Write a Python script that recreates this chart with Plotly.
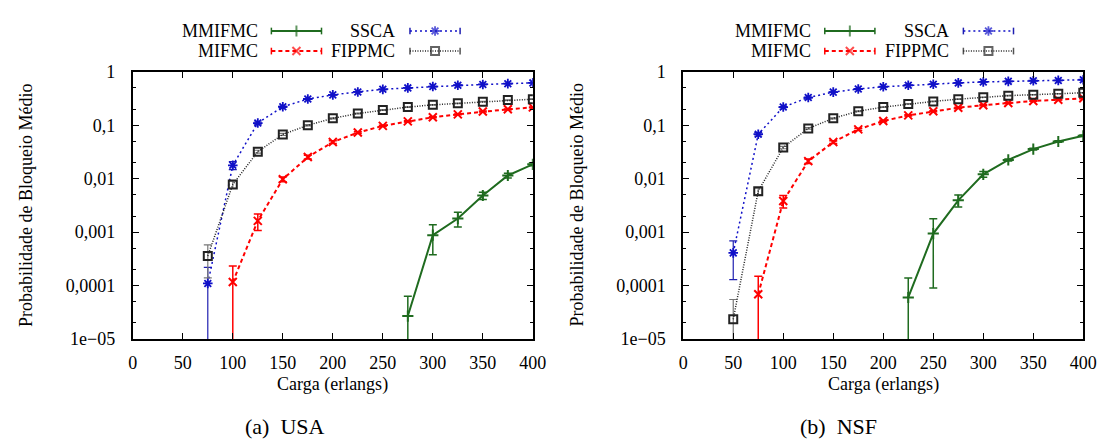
import plotly.graph_objects as go

W, H = 1114, 447
FONT = "Liberation Serif"

# ---------------- data: blocking probability vs. load (erlangs) ----------------
# USA topology
usa_mmifmc_x = [275, 300, 325, 350, 375, 400]
usa_mmifmc_y = [2.7e-5, 8.8e-4, 1.8e-3, 4.85e-3, 0.0115, 0.0186]
usa_mmifmc_e = [3.6e-5, 5e-4, 5.5e-4, 7.5e-4, 1.2e-3, 1.2e-3]

usa_mifmc_x = [100, 125, 150, 175, 200, 225, 250, 275, 300, 325, 350, 375, 400]
usa_mifmc_y = [1.17e-4, 1.63e-3, 0.0098, 0.0254, 0.0485, 0.073, 0.0975, 0.118,
               0.141, 0.16, 0.181, 0.199, 0.216]
usa_mifmc_e = [1.17e-4, 5.5e-4, 1e-3, 2e-3, 3e-3, 3e-3, 3e-3, 3e-3,
               3e-3, 3e-3, 3e-3, 3e-3, 3e-3]

usa_ssca_x = [75, 100, 125, 150, 175, 200, 225, 250, 275, 300, 325, 350, 375, 400]
usa_ssca_y = [1.1e-4, 0.0178, 0.110, 0.222, 0.31, 0.37, 0.42, 0.47, 0.50,
              0.53, 0.56, 0.58, 0.60, 0.62]
usa_ssca_e = [1.1e-4, 3e-3, 5e-3, 5e-3, 5e-3, 5e-3, 5e-3, 5e-3, 5e-3,
              5e-3, 5e-3, 5e-3, 5e-3, 5e-3]

usa_fippmc_x = [75, 100, 125, 150, 175, 200, 225, 250, 275, 300, 325, 350, 375, 400]
usa_fippmc_y = [3.6e-4, 0.0078, 0.0321, 0.0674, 0.1, 0.135, 0.166, 0.193, 0.219,
                0.241, 0.258, 0.276, 0.296, 0.308]
usa_fippmc_e = [2.2e-4, 1.2e-3, 2e-3, 3e-3, 3e-3, 3e-3, 3e-3, 3e-3, 3e-3,
                3e-3, 3e-3, 3e-3, 3e-3, 3e-3]

# NSF topology
nsf_mmifmc_x = [225, 250, 275, 300, 325, 350, 375, 400]
nsf_mmifmc_y = [6e-5, 9.4e-4, 3.95e-3, 0.0121, 0.0225, 0.0358, 0.0497, 0.0636]
nsf_mmifmc_e = [7.9e-5, 8.5e-4, 1e-3, 1.5e-3, 1e-3, 1.5e-3, 1.5e-3, 2e-3]

nsf_mifmc_x = [75, 100, 125, 150, 175, 200, 225, 250, 275, 300, 325, 350, 375, 400]
nsf_mifmc_y = [6.9e-5, 3.84e-3, 0.0213, 0.0485, 0.0838, 0.12, 0.153, 0.183, 0.213,
               0.237, 0.261, 0.284, 0.3, 0.321]
nsf_mifmc_e = [8.1e-5, 1e-3, 2e-3, 3e-3, 4e-3, 4e-3, 4e-3, 4e-3, 4e-3,
               4e-3, 4e-3, 4e-3, 4e-3, 4e-3]

nsf_ssca_x = [50, 75, 100, 125, 150, 175, 200, 225, 250, 275, 300, 325, 350, 375, 400]
nsf_ssca_y = [4.1e-4, 0.068, 0.219, 0.33, 0.417, 0.477, 0.526, 0.56, 0.586, 0.62,
              0.646, 0.663, 0.68, 0.69, 0.71]
nsf_ssca_e = [2.8e-4, 5e-3, 5e-3, 5e-3, 5e-3, 5e-3, 5e-3, 5e-3, 5e-3, 5e-3,
              5e-3, 5e-3, 5e-3, 5e-3, 5e-3]

nsf_fippmc_x = [50, 75, 100, 125, 150, 175, 200, 225, 250, 275, 300, 325, 350, 375, 400]
nsf_fippmc_y = [2.35e-5, 5.86e-3, 0.0384, 0.0873, 0.135, 0.183, 0.219, 0.251, 0.279,
                0.308, 0.335, 0.358, 0.373, 0.389, 0.405]
nsf_fippmc_e = [3.15e-5, 8e-4, 2e-3, 3e-3, 3e-3, 3e-3, 3e-3, 3e-3, 3e-3,
                3e-3, 3e-3, 3e-3, 3e-3, 3e-3, 3e-3]

x_ticks = [0, 50, 100, 150, 200, 250, 300, 350, 400]
y_ticks = [1e-5, 1e-4, 1e-3, 1e-2, 1e-1, 1]
y_tick_labels = ["1e\u221205", "0,0001", "0,001", "0,01", "0,1", "1"]

# ---------------- series styles ----------------
STYLES = {
    "MMIFMC": dict(color="#1f6b1f", dash="solid", width=2, symbol="cross-thin-open",
                   msize=8, mline=2, ecolor="#1f6b1f", ewidth=1.5),
    "MIFMC": dict(color="#ff0000", dash="4px,3px", width=2, symbol="x-thin-open",
                  msize=8, mline=2, ecolor="#ff0000", ewidth=1.5),
    "SSCA": dict(color="#1010c8", dash="2px,3px", width=1.5, symbol="asterisk-open",
                 msize=8, mline=1.8, ecolor="#2020b0", ewidth=1.2),
    "FIPPMC": dict(color="#222222", dash="1px,1.5px", width=1.5, symbol="square-open",
                   msize=8, mline=2, ecolor="#777777", ewidth=1.2),
}
ORDER = ["MMIFMC", "MIFMC", "SSCA", "FIPPMC"]

panels = [
    dict(xa="x", ya="y", series={
        "MMIFMC": (usa_mmifmc_x, usa_mmifmc_y, usa_mmifmc_e),
        "MIFMC": (usa_mifmc_x, usa_mifmc_y, usa_mifmc_e),
        "SSCA": (usa_ssca_x, usa_ssca_y, usa_ssca_e),
        "FIPPMC": (usa_fippmc_x, usa_fippmc_y, usa_fippmc_e),
    }),
    dict(xa="x2", ya="y2", series={
        "MMIFMC": (nsf_mmifmc_x, nsf_mmifmc_y, nsf_mmifmc_e),
        "MIFMC": (nsf_mifmc_x, nsf_mifmc_y, nsf_mifmc_e),
        "SSCA": (nsf_ssca_x, nsf_ssca_y, nsf_ssca_e),
        "FIPPMC": (nsf_fippmc_x, nsf_fippmc_y, nsf_fippmc_e),
    }),
]

fig = go.Figure()

for p in panels:
    for name in ORDER:
        xs, ys, es = p["series"][name]
        s = STYLES[name]
        fig.add_trace(go.Scatter(
            x=xs, y=ys, xaxis=p["xa"], yaxis=p["ya"], name=name, showlegend=False,
            mode="lines+markers",
            line=dict(color=s["color"], dash=s["dash"], width=s["width"]),
            marker=dict(symbol=s["symbol"], size=s["msize"],
                        line=dict(color=s["color"], width=s["mline"])),
            error_y=dict(type="data", array=es, symmetric=True, color=s["ecolor"],
                         thickness=s["ewidth"], width=4),
        ))

# ---------------- layout geometry (pixels) ----------------
BOX_L = [130, 690]
BOX_W = 407
BOX_TOP, BOX_BOT = 64.7, 344.5
PANEL_SHIFT = 563          # offset of key / captions of the second panel

def xdom(left):
    return [left / W, (left + BOX_W) / W]

ydom = [1 - BOX_BOT / H, 1 - BOX_TOP / H]

axis_common = dict(
    showline=True, linecolor="black", linewidth=2, mirror="ticks",
    ticks="inside", ticklen=6, tickwidth=1.2, tickcolor="black",
    showgrid=False, zeroline=False,
    tickfont=dict(family=FONT, size=18, color="black"),
)

xaxis_common = dict(axis_common, range=[0, 400], tickmode="array", tickvals=x_ticks,
                    ticklabelstandoff=6)
yaxis_common = dict(axis_common, type="log", range=[-5, 0], tickmode="array",
                    tickvals=y_ticks, ticktext=y_tick_labels, ticklabelstandoff=12,
                    minor=dict(dtick="D2", ticks="inside", ticklen=3,
                               tickcolor="black", tickwidth=1, showgrid=False))

# overlay axes in pixel units for the key and captions
fig.update_layout(
    xaxis=dict(xaxis_common, domain=xdom(BOX_L[0]), anchor="y"),
    yaxis=dict(yaxis_common, domain=ydom, anchor="x"),
    xaxis2=dict(xaxis_common, domain=xdom(BOX_L[1]), anchor="y2"),
    yaxis2=dict(yaxis_common, domain=ydom, anchor="x2"),
    xaxis3=dict(domain=[0, 1], range=[0, W], visible=False, anchor="y3"),
    yaxis3=dict(domain=[0, 1], range=[H, 0], visible=False, anchor="x3"),
)

# ---------------- key (text right-aligned, sample on the right) ----------------
KEY_ROWS = [22.0, 43.0]
KEY_COLS = [dict(text_right=259, s0=271, s1=322), dict(text_right=399, s0=412, s1=463)]
KEY_POS = {"MMIFMC": (0, 0), "MIFMC": (0, 1), "SSCA": (1, 0), "FIPPMC": (1, 1)}

annotations = []
for k in range(2):
    dx = k * PANEL_SHIFT
    for name in ORDER:
        c, r = KEY_POS[name]
        col = KEY_COLS[c]
        yk = KEY_ROWS[r]
        s = STYLES[name]
        x0, x1 = col["s0"] + dx, col["s1"] + dx
        fig.add_trace(go.Scatter(
            x=[x0, (x0 + x1) / 2, x1], y=[yk, yk, yk], xaxis="x3", yaxis="y3",
            mode="lines+markers", showlegend=False, hoverinfo="skip",
            line=dict(color=s["color"], dash=s["dash"], width=s["width"]),
            marker=dict(symbol=s["symbol"], size=[0, s["msize"], 0],
                        line=dict(color=s["color"], width=s["mline"])),
            error_y=dict(type="data", array=[3.5, 0, 3.5], symmetric=True,
                         color=s["ecolor"] if name != "FIPPMC" else "#555555",
                         thickness=1.5, width=0),
        ))
        annotations.append(dict(
            x=col["text_right"] + dx, y=yk, xref="x3", yref="y3",
            text=name, showarrow=False, xanchor="right", yanchor="middle",
            font=dict(family=FONT, size=18, color="black"),
        ))

# axis titles and sub-captions
for k, cap in enumerate(["(a)  USA", "(b)  NSF"]):
    left = BOX_L[k]
    annotations.append(dict(
        x=22 + (left - BOX_L[0]), y=(BOX_TOP + BOX_BOT) / 2, xref="x3", yref="y3",
        text="Probabilidade de Bloqueio Médio", textangle=-90, showarrow=False,
        xanchor="center", yanchor="middle",
        font=dict(family=FONT, size=18, color="black"),
    ))
    annotations.append(dict(
        x=left + BOX_W / 2, y=392, xref="x3", yref="y3",
        text="Carga (erlangs)", showarrow=False, xanchor="center", yanchor="middle",
        font=dict(family=FONT, size=18, color="black"),
    ))
    annotations.append(dict(
        x=285 + k * PANEL_SHIFT, y=436, xref="x3", yref="y3",
        text=cap, showarrow=False, xanchor="center", yanchor="middle",
        font=dict(family=FONT, size=22, color="black"),
    ))

fig.update_layout(
    width=W, height=H, margin=dict(l=0, r=0, t=0, b=0),
    paper_bgcolor="white", plot_bgcolor="rgba(0,0,0,0)",
    showlegend=False, annotations=annotations,
    font=dict(family=FONT, color="black"),
)

fig.write_html("out.html")
